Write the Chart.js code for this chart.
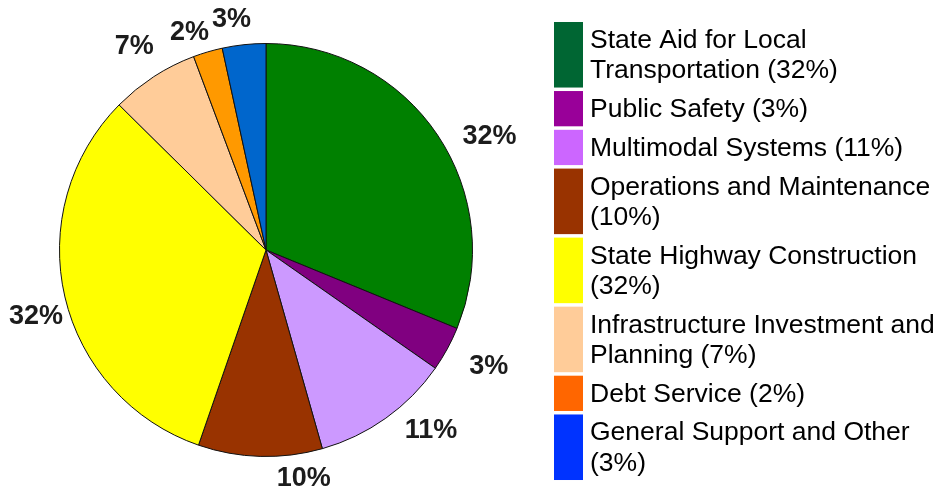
<!DOCTYPE html>
<html>
<head>
<meta charset="utf-8">
<script src="https://cdn.jsdelivr.net/npm/chart.js@4.4.0/dist/chart.umd.min.js"></script>
<style>
  html, body { margin: 0; padding: 0; background: #fff; }
  #wrap { position: relative; width: 941px; height: 493px; }
</style>
</head>
<body>
<div id="wrap"><canvas id="c" width="941" height="493"></canvas></div>
<script>
// budget shares, clockwise from 12 o'clock
const categories = [
  'State Aid for Local Transportation',
  'Public Safety',
  'Multimodal Systems',
  'Operations and Maintenance',
  'State Highway Construction',
  'Infrastructure Investment and Planning',
  'Debt Service',
  'General Support and Other',
];
const shares = [31.2, 3.5, 10.9, 9.7, 32.1, 6.9, 2.3, 3.4];
const pctLabels = ['32%', '3%', '11%', '10%', '32%', '7%', '2%', '3%'];
const sliceColors = ['#008000', '#800080', '#cc99ff', '#993300', '#ffff00', '#ffcc99', '#ff9900', '#0066cc'];
const legendColors = ['#006633', '#990099', '#cc66ff', '#993300', '#ffff00', '#ffcc99', '#ff6600', '#0033ff'];

const FONT = 'Arial, "Liberation Sans", sans-serif';

// percent labels outside each slice; the original nudges some of them off the mid-angle
const sliceLabels = {
  id: 'sliceLabels',
  afterDatasetsDraw(chart, args, opts) {
    const { ctx } = chart;
    const arcs = chart.getDatasetMeta(0).data;
    ctx.save();
    ctx.font = 'bold 27px ' + FONT;
    ctx.fillStyle = '#1c1c1c';
    ctx.textAlign = 'center';
    ctx.textBaseline = 'middle';
    arcs.forEach((arc, i) => {
      const { x, y, startAngle, endAngle, outerRadius } = arc.getProps(['x', 'y', 'startAngle', 'endAngle', 'outerRadius'], true);
      const mid = (startAngle + endAngle) / 2 + (opts.shift[i] || 0) * Math.PI / 180;
      const r = outerRadius + (opts.gap[i] || 34);
      ctx.fillText(pctLabels[i], x + Math.cos(mid) * r, y + Math.sin(mid) * r);
    });
    ctx.restore();
  },
};

function wrap(ctx, text, maxW) {
  const words = text.split(' ');
  const lines = [];
  let cur = '';
  words.forEach((w) => {
    const t = cur ? cur + ' ' + w : w;
    if (cur && ctx.measureText(t).width > maxW) { lines.push(cur); cur = w; } else cur = t;
  });
  lines.push(cur);
  return lines;
}

// legend on the right, boxes stretch with wrapped text
const sideLegend = {
  id: 'sideLegend',
  afterDraw(chart) {
    const { ctx } = chart;
    const boxX = 554, boxW = 29, textX = 590, lineH = 30.27, gap = 3.5;
    let top = 22;
    ctx.save();
    ctx.font = '26.5px ' + FONT;
    ctx.textBaseline = 'middle';
    categories.forEach((name, i) => {
      const lines = wrap(ctx, name + ' (' + pctLabels[i] + ')', 349);
      const h = lines.length * lineH + 5;
      ctx.fillStyle = legendColors[i];
      ctx.fillRect(boxX, top, boxW, h);
      ctx.fillStyle = '#000';
      const y0 = top + h / 2 - (lines.length - 1) * lineH / 2;
      lines.forEach((ln, j) => ctx.fillText(ln, textX, y0 + j * lineH + 1));
      top += h + gap;
    });
    ctx.restore();
  },
};

new Chart(document.getElementById('c'), {
  type: 'pie',
  data: {
    labels: categories,
    datasets: [{
      data: shares,
      backgroundColor: sliceColors,
      borderColor: '#111',
      borderWidth: 1,
      hoverOffset: 0,
    }],
  },
  options: {
    responsive: false,
    animation: false,
    devicePixelRatio: 1,
    layout: { padding: { left: 59, top: 43, right: 468, bottom: 36 } },
    plugins: {
      legend: { display: false },
      tooltip: { enabled: false },
      sliceLabels: {
        shift: [7, -1, -7, -11, -3, 0, -3, -2.4],
        gap: [44, 45, 38, 25, 33, 36, 24, 27],
      },
    },
  },
  plugins: [sliceLabels, sideLegend],
});
</script>
</body>
</html>
